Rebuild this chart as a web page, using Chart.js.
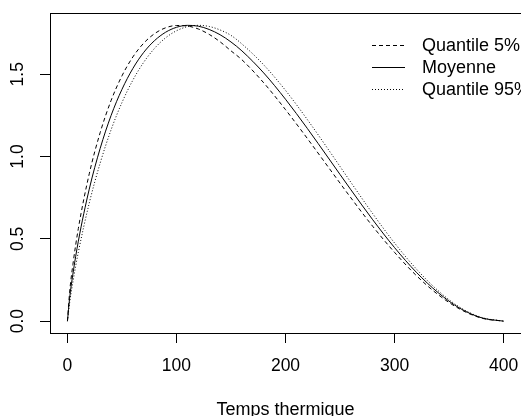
<!DOCTYPE html>
<html>
<head>
<meta charset="utf-8">
<script src="https://cdn.jsdelivr.net/npm/chart.js"></script>
<style>
  html, body { margin: 0; padding: 0; background: #ffffff; }
  canvas { display: block; }
</style>
</head>
<body>
<canvas id="c" width="521" height="416" style="width:521px;height:416px"></canvas>
<script>
// ---- data ----
const xs = [0, 2, 5, 10, 20, 30, 40, 50, 60, 70, 80, 90, 100, 110, 120, 130, 140, 150, 160, 180, 200, 220, 240, 260, 280, 300, 320, 340, 360, 380, 400];
const quantile5 = [0, 0.176, 0.344, 0.563, 0.895, 1.145, 1.340, 1.490, 1.605, 1.689, 1.747, 1.782, 1.796, 1.793, 1.775, 1.742, 1.697, 1.642, 1.588, 1.448, 1.285, 1.110, 0.929, 0.749, 0.576, 0.418, 0.277, 0.161, 0.073, 0.018, 0];
const moyenne   = [0, 0.140, 0.286, 0.486, 0.802, 1.049, 1.249, 1.408, 1.535, 1.633, 1.705, 1.755, 1.785, 1.797, 1.792, 1.772, 1.740, 1.696, 1.642, 1.508, 1.348, 1.171, 0.985, 0.798, 0.616, 0.447, 0.297, 0.173, 0.078, 0.020, 0];
const quantile95 = [0, 0.111, 0.238, 0.419, 0.717, 0.960, 1.162, 1.328, 1.464, 1.573, 1.658, 1.721, 1.764, 1.789, 1.797, 1.790, 1.769, 1.736, 1.684, 1.557, 1.402, 1.225, 1.036, 0.843, 0.653, 0.475, 0.317, 0.185, 0.084, 0.022, 0];
const seriesLabels = ["Quantile 5%", "Moyenne", "Quantile 95%"];
const xTicks = [0, 100, 200, 300, 400];
const yTicks = [0, 0.5, 1.0, 1.5];
const xTitle = "Temps thermique";

const FONT = "'Liberation Sans', Arial, Helvetica, sans-serif";
Chart.defaults.font.family = FONT;
Chart.defaults.font.size = 17.5;
Chart.defaults.color = '#000';

function pts(arr) { return xs.map((x, i) => ({ x: x, y: arr[i] })); }

function noPad(s) { s.paddingLeft = 0; s.paddingRight = 0; s.paddingTop = 0; s.paddingBottom = 0; }

const frame = {
  id: 'frame',
  afterDraw(chart) {
    const a = chart.chartArea, ctx = chart.ctx;
    ctx.save();
    ctx.strokeStyle = '#000';
    ctx.lineWidth = 1;
    ctx.setLineDash([]);
    ctx.strokeRect(Math.round(a.left) + 0.5, Math.round(a.top) + 0.5, Math.round(a.right - a.left), Math.round(a.bottom - a.top));
    ctx.restore();
  }
};

const rLegend = {
  id: 'rLegend',
  afterDraw(chart) {
    const ctx = chart.ctx;
    ctx.save();
    ctx.font = '18px ' + FONT;
    ctx.fillStyle = '#000';
    ctx.textBaseline = 'middle';
    ctx.textAlign = 'left';
    const rows = [45.5, 67.5, 89.5];
    chart.data.datasets.forEach((ds, i) => {
      const y = rows[i];
      ctx.strokeStyle = '#000';
      ctx.lineWidth = 1;
      ctx.setLineDash(ds.borderDash || []);
      ctx.beginPath();
      ctx.moveTo(372, y);
      ctx.lineTo(405, y);
      ctx.stroke();
      ctx.setLineDash([]);
      ctx.fillText(ds.label, 422, y + 1);
    });
    ctx.restore();
  }
};

new Chart(document.getElementById('c'), {
  type: 'line',
  data: {
    datasets: [
      { label: seriesLabels[0], data: pts(quantile5), borderDash: [4, 3] },
      { label: seriesLabels[1], data: pts(moyenne), borderDash: [] },
      { label: seriesLabels[2], data: pts(quantile95), borderDash: [1, 2] }
    ].map(d => Object.assign(d, {
      borderColor: '#000', borderWidth: 1, pointRadius: 0, fill: false,
      cubicInterpolationMode: 'monotone'
    }))
  },
  options: {
    responsive: false,
    animation: false,
    devicePixelRatio: 1,
    layout: { padding: { top: 13, left: 0, right: 0, bottom: 0 } },
    plugins: { legend: { display: false }, tooltip: { enabled: false } },
    scales: {
      x: {
        type: 'linear', position: 'bottom', min: -16, max: 416,
        afterBuildTicks(s) { s.ticks = xTicks.map(v => ({ value: v })); },
        afterFit(s) { s.height = 83; noPad(s); },
        ticks: { padding: 13, maxRotation: 0, minRotation: 0, autoSkip: false, callback: v => String(v) },
        grid: { display: true, drawOnChartArea: false, drawTicks: true, tickLength: 10, color: '#000', lineWidth: 1 },
        border: { display: false },
        title: { display: true, text: xTitle, font: { size: 18 }, padding: { top: 0, bottom: -5 } }
      },
      y: {
        type: 'linear', position: 'left', min: -0.072, max: 1.872,
        afterBuildTicks(s) { s.ticks = yTicks.map(v => ({ value: v })); },
        afterFit(s) { s.width = 50; noPad(s); },
        ticks: { padding: 10, minRotation: 90, maxRotation: 90, crossAlign: 'center', autoSkip: false, callback: v => Number(v).toFixed(1) },
        grid: { display: true, drawOnChartArea: false, drawTicks: true, tickLength: 10, color: '#000', lineWidth: 1 },
        border: { display: false }
      }
    }
  },
  plugins: [frame, rLegend]
});
</script>
</body>
</html>
